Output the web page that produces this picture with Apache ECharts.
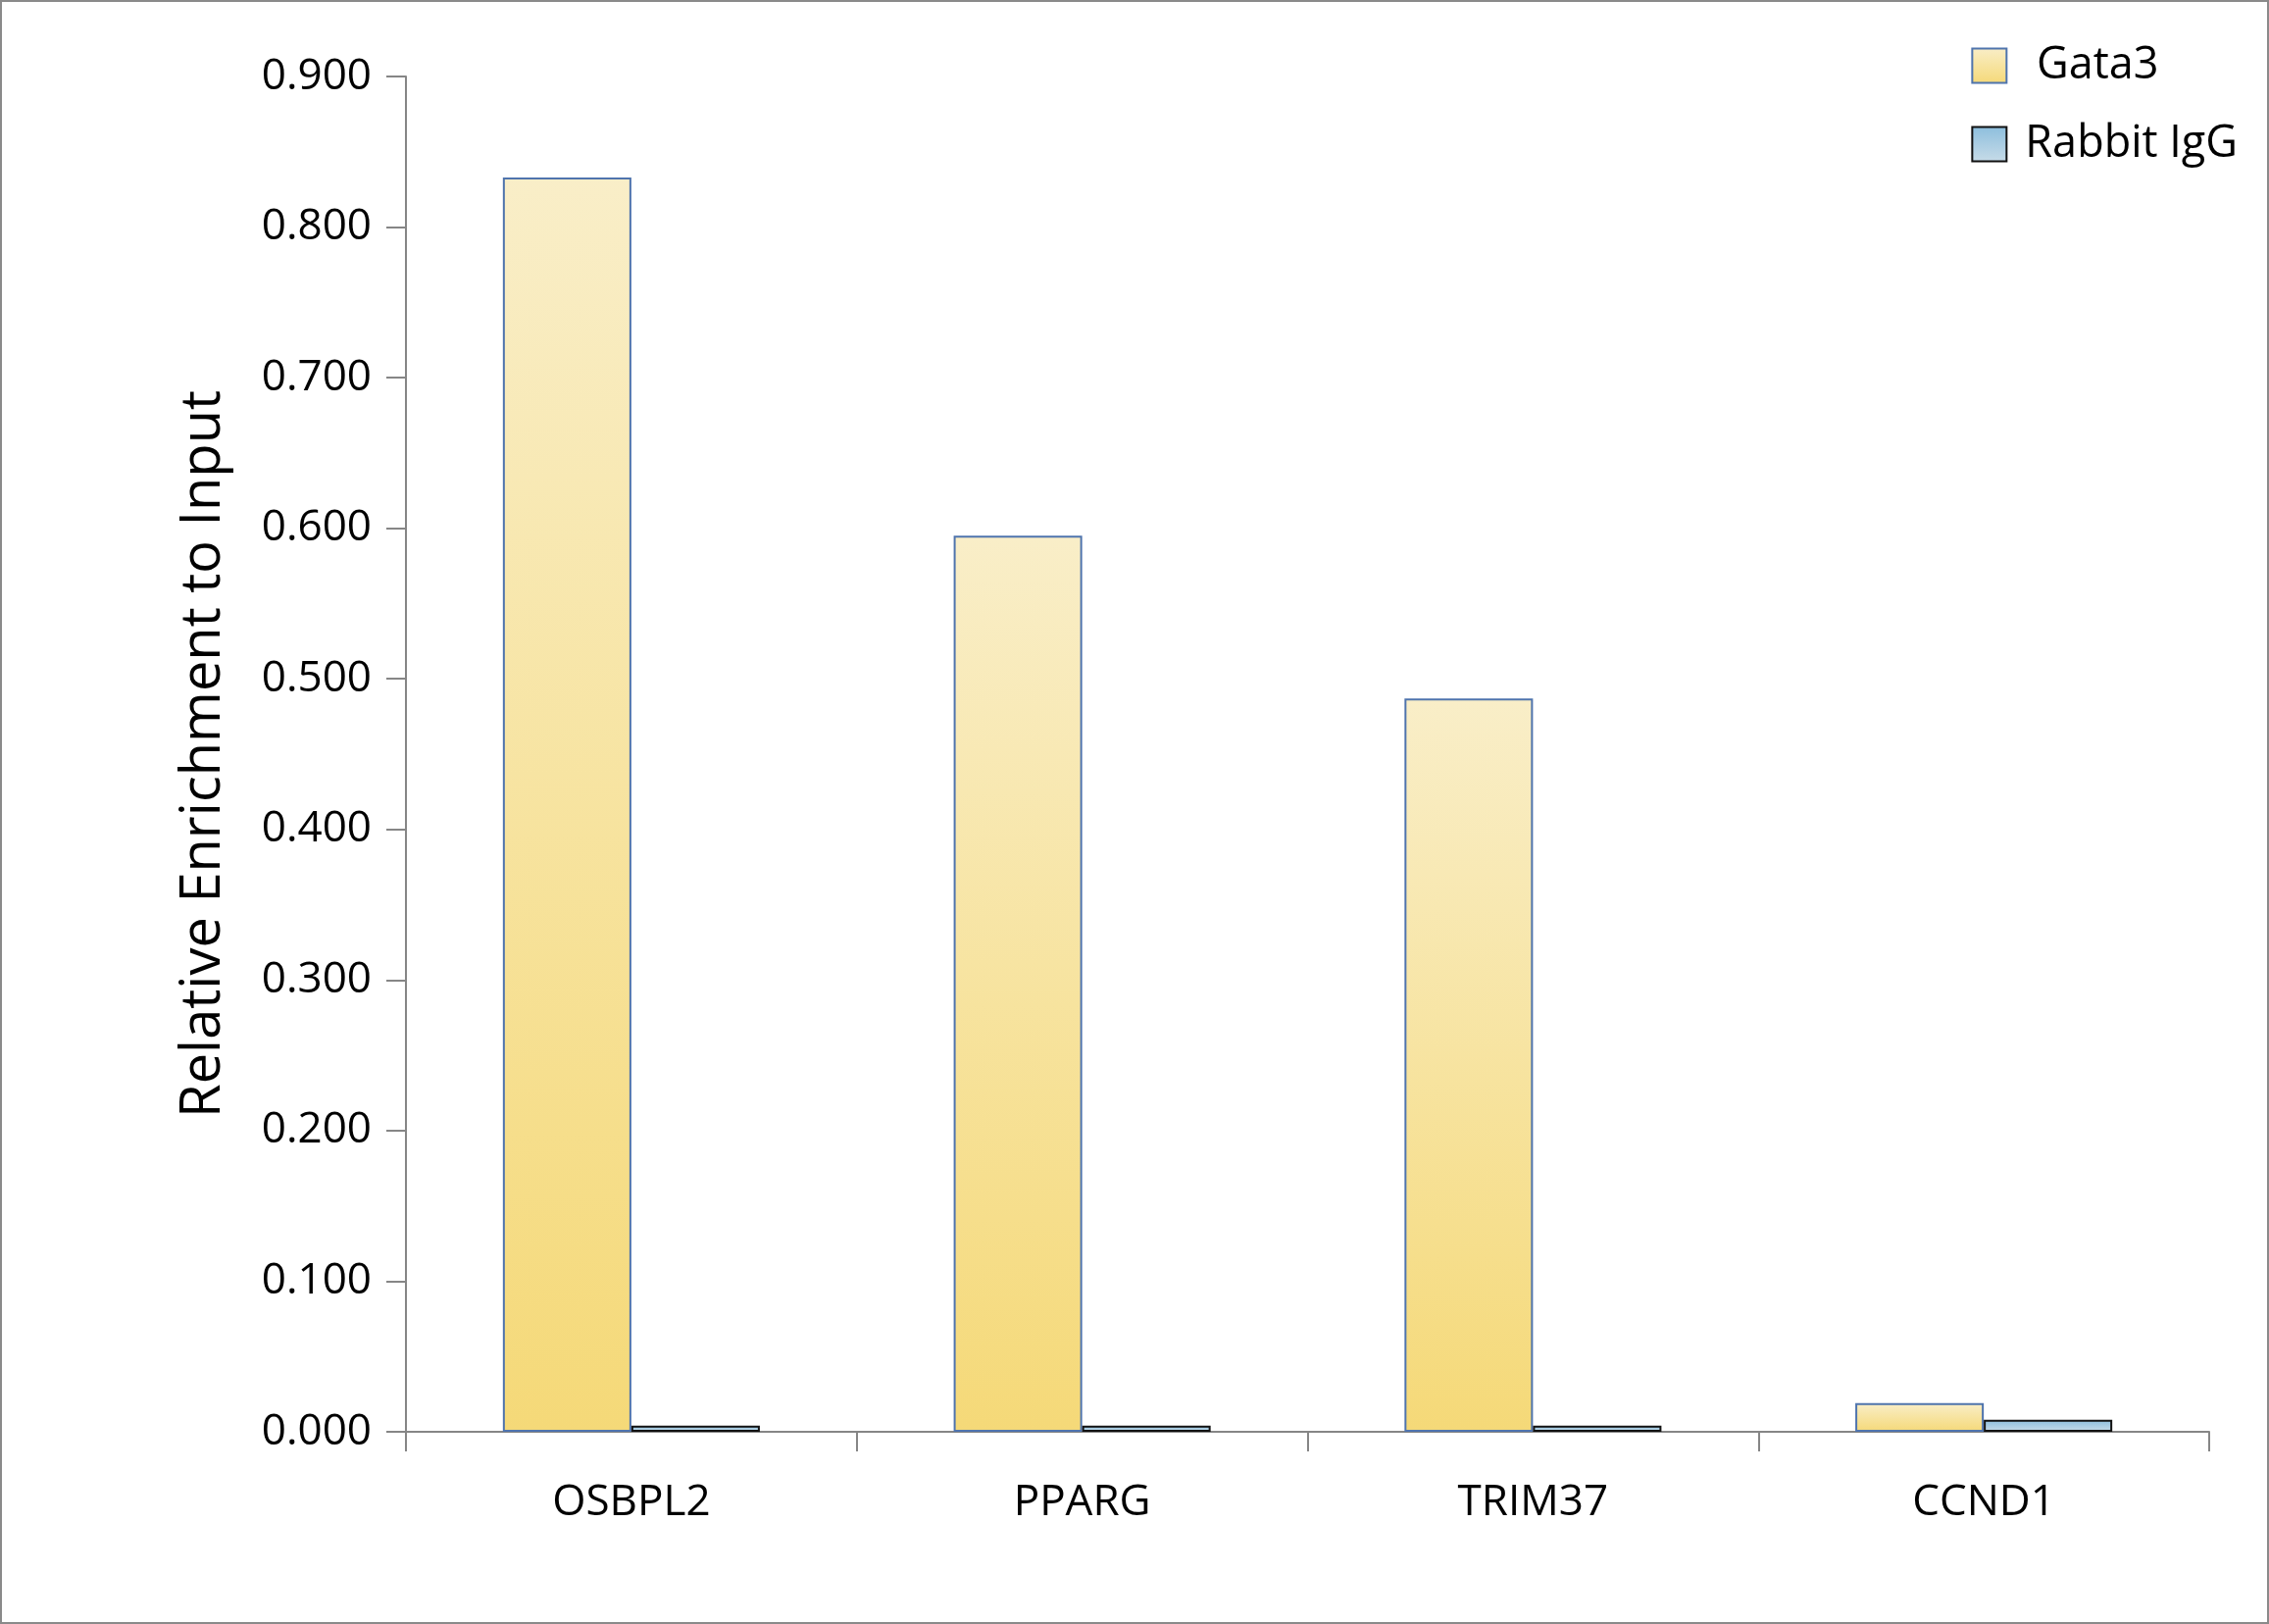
<!DOCTYPE html>
<html><head><meta charset="utf-8">
<script src="https://cdn.jsdelivr.net/npm/echarts@6/dist/echarts.min.js"></script>
<style>html,body{margin:0;padding:0;background:#fff}#c{width:2314px;height:1656px;box-sizing:border-box;border:2px solid #8a8a8a}</style>
</head><body><div id="c"></div>
<script>
const categories = ['OSBPL2', 'PPARG', 'TRIM37', 'CCND1'];
const gata3 = [0.833, 0.595, 0.487, 0.019];
const rabbitIgG = [0.004, 0.004, 0.004, 0.008];
const seriesNames = ['Gata3', 'Rabbit IgG'];
const yTicks = { min: 0, max: 0.9, interval: 0.1 };

const font = '"Open Sans", "Liberation Sans", sans-serif';
const chart = echarts.init(document.getElementById('c'));
const grad = (top, bottom) => new echarts.graphic.LinearGradient(0, 0, 0, 1, [{offset: 0, color: top}, {offset: 1, color: bottom}]);
chart.setOption({
  animation: false,
  backgroundColor: '#fff',
  grid: { left: 412, right: 59, top: 76, bottom: 194 },
  legend: {
    orient: 'vertical', right: 25, top: 30,
    itemWidth: 35, itemHeight: 35, itemGap: 20,
    icon: 'rect',
    textStyle: { fontFamily: font, fontSize: 45, color: '#000', padding: [0, 0, 0, 14], lineHeight: 60 },
    formatter: n => n === 'Gata3' ? ' ' + n : n,
    data: seriesNames
  },
  xAxis: {
    type: 'category', data: categories,
    axisLine: { lineStyle: { color: '#868686', width: 2 } },
    axisTick: { show: true, length: 20, lineStyle: { color: '#868686', width: 2 } },
    axisLabel: { fontFamily: font, fontSize: 44, color: '#000', margin: 50 }
  },
  yAxis: {
    type: 'value', min: yTicks.min, max: yTicks.max, interval: yTicks.interval,
    name: 'Relative Enrichment to Input', nameLocation: 'middle', nameGap: 178,
    nameTextStyle: { fontFamily: font, fontSize: 56, color: '#000' },
    axisLine: { show: true, lineStyle: { color: '#868686', width: 2 } },
    axisTick: { show: true, length: 20, lineStyle: { color: '#868686', width: 2 } },
    splitLine: { show: false },
    axisLabel: { fontFamily: font, fontSize: 44, color: '#000', margin: 35, formatter: v => v.toFixed(3) }
  },
  series: [
    {
      name: seriesNames[0], type: 'bar', data: gata3, barWidth: '28.5%', barGap: '0%',
      itemStyle: { color: grad('#F9EEC8', '#F5D978'), borderColor: '#4F74AD', borderWidth: 2 }
    },
    {
      name: seriesNames[1], type: 'bar', data: rabbitIgG, barWidth: '28.5%',
      itemStyle: { color: grad('#8CBEDD', '#C8DCE8'), borderColor: '#111', borderWidth: 2 }
    }
  ]
});
</script></body></html>
